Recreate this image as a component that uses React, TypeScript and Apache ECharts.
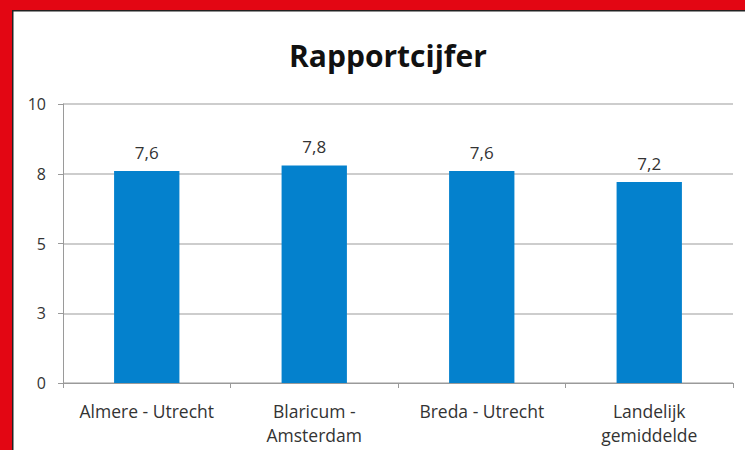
import React, { useEffect, useRef } from "react";
import * as echarts from "echarts";

const categories = ["Almere - Utrecht", "Blaricum -\nAmsterdam", "Breda - Utrecht", "Landelijk\ngemiddelde"];
const values = [7.6, 7.8, 7.6, 7.2];
const titleText = "Rapportcijfer";

export default function App() {
  const ref = useRef<HTMLDivElement>(null);
  useEffect(() => {
    const chart = echarts.init(ref.current!, null, { renderer: "svg" });
    const font = "Open Sans";
    chart.setOption({
      animation: false,
      backgroundColor: "#ffffff",
      title: {
        text: titleText,
        left: 284,
        top: 35,
        textStyle: { fontFamily: font, fontSize: 30, fontWeight: "bold", color: "#111" },
      },
      graphic: [
        { type: "rect", shape: { x: 0, y: 0, width: 745, height: 10 }, style: { fill: "#e30613" } },
        { type: "rect", shape: { x: 0, y: 0, width: 12, height: 450 }, style: { fill: "#e30613" } },
        { type: "rect", shape: { x: 12, y: 10, width: 733, height: 1.5 }, style: { fill: "#222" } },
        { type: "rect", shape: { x: 12, y: 10, width: 1.5, height: 440 }, style: { fill: "#222" } },
      ],
      grid: { left: 63, right: 12, top: 104, bottom: 67 },
      xAxis: {
        type: "category",
        data: categories,
        axisLine: { lineStyle: { color: "#9a9a9a", width: 1 } },
        axisTick: { show: true, interval: 0, length: 5, lineStyle: { color: "#9a9a9a" } },
        axisLabel: { interval: 0, hideOverlap: false, fontFamily: font, fontSize: 17.5, color: "#333", margin: 16, lineHeight: 24 },
      },
      yAxis: {
        type: "value",
        min: 0,
        max: 10,
        interval: 2.5,
        axisLine: { show: true, lineStyle: { color: "#9a9a9a", width: 1 } },
        axisTick: { show: true, length: 5, lineStyle: { color: "#9a9a9a" } },
        splitLine: { lineStyle: { color: "#bdbdbd", width: 1.5 } },
        axisLabel: {
          fontFamily: font,
          fontSize: 16,
          color: "#333",
          margin: 17,
          formatter: (v: number) => String(Math.round(v)),
        },
      },
      series: [
        {
          type: "bar",
          data: values,
          barWidth: "39%",
          itemStyle: { color: "#0481cd" },
          label: {
            show: true,
            position: "top",
            distance: 10,
            fontFamily: font,
            fontSize: 17,
            color: "#333",
            formatter: (p: any) => String(p.value).replace(".", ","),
          },
        },
      ],
    });
    return () => chart.dispose();
  }, []);
  return <div ref={ref} style={{ position: "fixed", left: 0, top: 0, width: 745, height: 450 }} />;
}
